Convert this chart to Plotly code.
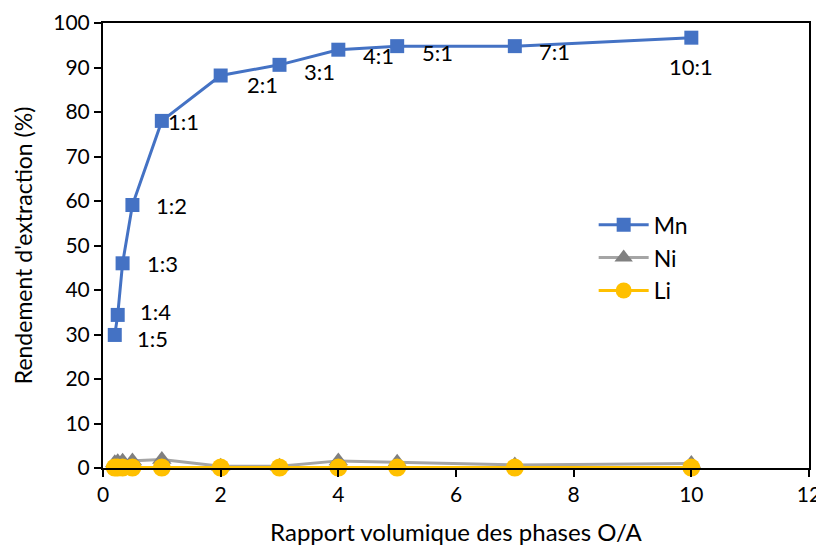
import plotly.graph_objects as go

ratio_x = [0.2, 0.25, 0.333, 0.5, 1, 2, 3, 4, 5, 7, 10]
ratio_labels = ["1:5", "1:4", "1:3", "1:2", "1:1", "2:1", "3:1", "4:1", "5:1", "7:1", "10:1"]
mn = [29.9, 34.4, 46.0, 59.1, 78.0, 88.2, 90.6, 94.0, 94.8, 94.8, 96.7]
ni = [1.2, 1.4, 1.5, 1.6, 1.9, 0.4, 0.4, 1.6, 1.3, 0.7, 1.0]
li = [0.1, 0.1, 0.1, 0.1, 0.1, 0.1, 0.1, 0.1, 0.1, 0.1, 0.1]

# label offsets in pixels (ax, ay) relative to each Mn point
label_offsets = [(38, 4), (38, -3), (40, 0), (39, 0), (22, 1), (42, 9), (40, 7), (40, 6), (40, 6), (40, 5), (0, 29)]

FONT = "Lato, Calibri, Carlito, sans-serif"

fig = go.Figure()
fig.add_trace(go.Scatter(x=ratio_x, y=mn, name="Mn", mode="lines+markers",
                         line=dict(color="#4472C4", width=3), cliponaxis=False,
                         marker=dict(symbol="square", size=14, color="#4472C4")))
fig.add_trace(go.Scatter(x=ratio_x, y=ni, name="Ni", mode="lines+markers",
                         line=dict(color="#A5A5A5", width=3), cliponaxis=False,
                         marker=dict(symbol="triangle-up", size=17, color="#808080")))
fig.add_trace(go.Scatter(x=ratio_x, y=li, name="Li", mode="lines+markers",
                         line=dict(color="#FFC000", width=3), cliponaxis=False,
                         marker=dict(symbol="circle", size=18, color="#FFC000")))

for x, y, t, (ax, ay) in zip(ratio_x, mn, ratio_labels, label_offsets):
    fig.add_annotation(x=x, y=y, text=t, showarrow=True, arrowcolor="rgba(0,0,0,0)",
                       ax=ax, ay=ay, font=dict(size=22, color="black", family=FONT))

fig.update_layout(
    width=816, height=538,
    margin=dict(l=95, r=15, t=15, b=78),
    paper_bgcolor="white", plot_bgcolor="white",
    font=dict(family=FONT, size=21, color="black"),
    showlegend=True,
    legend=dict(x=0.695, y=0.595, xanchor="left", yanchor="top",
                bgcolor="rgba(0,0,0,0)", font=dict(size=23), itemwidth=50,
                tracegroupgap=0),
    xaxis=dict(range=[0, 12], dtick=2, showgrid=False, zeroline=False, automargin=False,
               showline=True, linecolor="black", linewidth=2, mirror=True,
               ticks="outside", ticklen=7, tickcolor="black", tickwidth=2,
               title=dict(text="Rapport volumique des phases O/A", font=dict(size=24), standoff=22)),
    yaxis=dict(range=[0, 100], dtick=10, showgrid=False, zeroline=False, automargin=False,
               showline=True, linecolor="black", linewidth=2, mirror=True,
               ticks="outside", ticklen=7, tickcolor="black", tickwidth=2,
               title=dict(text="Rendement d'extraction (%)", font=dict(size=23), standoff=14)),
)

fig.write_html("out.html")
